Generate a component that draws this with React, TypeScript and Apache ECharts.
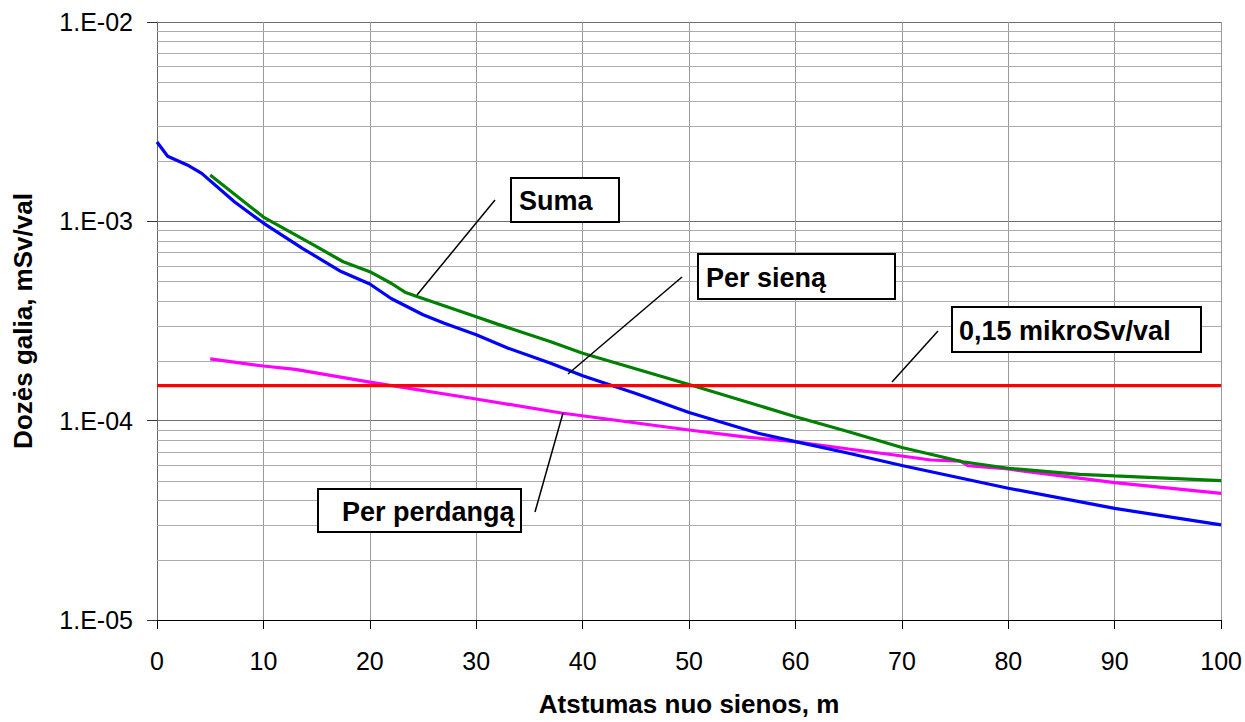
import React, { useEffect, useRef } from "react";
import * as echarts from "echarts";

// x: distance from wall (m), y: dose rate (mSv/val)
const perSienaData: [number, number][] = [
  [0, 2.5e-3], [1, 2.12e-3], [3, 1.9e-3], [4.2, 1.74e-3], [7.3, 1.25e-3], [10, 9.8e-4],
  [13.7, 7.3e-4], [17.3, 5.6e-4], [20, 4.85e-4], [22, 4.1e-4], [25, 3.4e-4], [27, 3.08e-4],
  [30, 2.7e-4], [33, 2.31e-4], [37, 1.94e-4], [40, 1.68e-4], [45, 1.37e-4], [50, 1.1e-4],
  [56.5, 8.65e-5], [60, 7.85e-5], [65, 6.86e-5], [70, 5.96e-5], [80, 4.58e-5], [90, 3.63e-5],
  [100, 3.0e-5],
];
const sumaData: [number, number][] = [
  [5, 1.71e-3], [10, 1.05e-3], [15, 7.46e-4], [17.5, 6.27e-4], [20, 5.59e-4], [22, 4.89e-4],
  [23.3, 4.41e-4], [24.5, 4.19e-4], [30, 3.32e-4], [32, 3.05e-4], [37, 2.49e-4], [40, 2.18e-4],
  [50, 1.52e-4], [60, 1.047e-4], [65, 8.8e-5], [70, 7.33e-5], [75.7, 6.22e-5], [80, 5.77e-5],
  [86.7, 5.38e-5], [90, 5.28e-5], [100, 5.0e-5],
];
const perPerdangaData: [number, number][] = [
  [5, 2.04e-4], [10, 1.88e-4], [13, 1.81e-4], [20, 1.56e-4], [30, 1.285e-4], [38, 1.093e-4],
  [50, 8.98e-5], [55, 8.31e-5], [60, 7.84e-5], [65, 7.21e-5], [70, 6.65e-5], [72.7, 6.35e-5],
  [75.5, 6.27e-5], [76.2, 5.94e-5], [80, 5.72e-5], [82, 5.53e-5], [90, 4.89e-5], [100, 4.32e-5],
];
const limitData: [number, number][] = [[0, 1.5e-4], [100, 1.5e-4]];

const minorGridValues: number[] = [
  2e-5, 3e-5, 4e-5, 5e-5, 6e-5, 7e-5, 8e-5, 9e-5,
  2e-4, 3e-4, 4e-4, 5e-4, 6e-4, 7e-4, 8e-4, 9e-4,
  2e-3, 3e-3, 4e-3, 5e-3, 6e-3, 7e-3, 8e-3, 9e-3,
];

const xTitle = "Atstumas nuo sienos, m";
const yTitle = "Dozės galia, mSv/val";
const labelSuma = "Suma";
const labelSiena = "Per sieną";
const labelLimit = "0,15 mikroSv/val";
const labelPerdanga = "Per perdangą";

const FONT = "'Liberation Sans', Arial, sans-serif";

function box(x: number, y: number, w: number, h: number, text: string, tx: number) {
  return [
    {
      type: "rect",
      z: 100,
      shape: { x, y, width: w, height: h },
      style: { fill: "#ffffff", stroke: "#000000", lineWidth: 2 },
    },
    {
      type: "text",
      z: 101,
      x: tx,
      y: y + h / 2 + 1,
      style: {
        text,
        fill: "#000000",
        fontFamily: FONT,
        fontWeight: "bold",
        fontSize: 27,
        align: "left",
        verticalAlign: "middle",
      },
    },
  ];
}

function leader(x1: number, y1: number, x2: number, y2: number) {
  return {
    type: "line",
    z: 100,
    shape: { x1, y1, x2, y2 },
    style: { stroke: "#000000", lineWidth: 1.5 },
  };
}

export default function App() {
  const ref = useRef<HTMLDivElement>(null);
  useEffect(() => {
    if (!ref.current) return;
    const chart = echarts.init(ref.current, undefined, { renderer: "svg" });
    const lineSeries = (name: string, data: [number, number][], color: string) => ({
      name,
      type: "line",
      data,
      showSymbol: false,
      symbol: "none",
      z: 3,
      lineStyle: { color, width: 3.2 },
      itemStyle: { color },
    });
    const minorGridSeries = {
      name: "minor-grid",
      type: "custom",
      silent: true,
      z: 1,
      clip: true,
      data: minorGridValues.map((v) => [v]),
      encode: { y: 0 },
      renderItem: (params: any, api: any) => {
        const v = api.value(0);
        const p1 = api.coord([0, v]);
        const p2 = api.coord([100, v]);
        const y = Math.round(p1[1]) + 0.5;
        return {
          type: "line",
          shape: { x1: p1[0], y1: y, x2: p2[0], y2: y },
          style: { stroke: "#ababab", lineWidth: 1 },
        };
      },
    };
    chart.setOption({
      animation: false,
      backgroundColor: "#ffffff",
      textStyle: { fontFamily: FONT },
      grid: { left: 157, right: 23, top: 22, bottom: 102, containLabel: false },
      xAxis: {
        type: "value",
        min: 0,
        max: 100,
        interval: 10,
        name: xTitle,
        nameLocation: "middle",
        nameGap: 71,
        nameTextStyle: { fontFamily: FONT, fontSize: 26, fontWeight: "bold", color: "#000" },
        axisLine: { show: true, onZero: false, lineStyle: { color: "#000", width: 1 } },
        axisTick: { show: true, inside: false, length: 9, lineStyle: { color: "#000" } },
        axisLabel: { color: "#000", fontSize: 25, fontFamily: FONT, margin: 28 },
        splitLine: { show: true, lineStyle: { color: "#9a9a9a", width: 1 } },
      },
      yAxis: {
        type: "log",
        logBase: 10,
        min: 1e-5,
        max: 1e-2,
        name: yTitle,
        nameLocation: "middle",
        nameRotate: 90,
        nameGap: 121,
        nameTextStyle: { fontFamily: FONT, fontSize: 26, fontWeight: "bold", color: "#000" },
        axisLine: { show: true, lineStyle: { color: "#666", width: 1 } },
        axisTick: { show: true, inside: false, length: 10, lineStyle: { color: "#333" } },
        axisLabel: {
          color: "#000",
          fontSize: 25,
          fontFamily: FONT,
          margin: 24,
          formatter: (v: number) => {
            const e = Math.round(Math.log10(v));
            return "1.E-" + String(-e).padStart(2, "0");
          },
        },
        splitLine: { show: true, lineStyle: { color: "#6e6e6e", width: 1 } },
      },
      graphic: [
        leader(495, 200, 417, 295),
        leader(682, 277, 568, 374),
        leader(938, 331, 892, 382),
        leader(563, 413, 535, 512),
        ...box(511, 178, 108, 44, labelSuma, 519),
        ...box(698, 254, 197, 45, labelSiena, 706),
        ...box(952, 307, 249, 45, labelLimit, 959),
        ...box(318, 489, 203, 43, labelPerdanga, 342),
      ],
      series: [
        minorGridSeries,
        lineSeries("Per perdangą", perPerdangaData, "#ff00ff"),
        lineSeries("Per sieną", perSienaData, "#0000ff"),
        lineSeries("Suma", sumaData, "#008000"),
        lineSeries("0,15 mikroSv/val", limitData, "#ff0000"),
      ],
    });
    return () => chart.dispose();
  }, []);
  return (
    <div
      ref={ref}
      style={{ position: "fixed", left: 0, top: 0, width: 1245, height: 722 }}
    />
  );
}
